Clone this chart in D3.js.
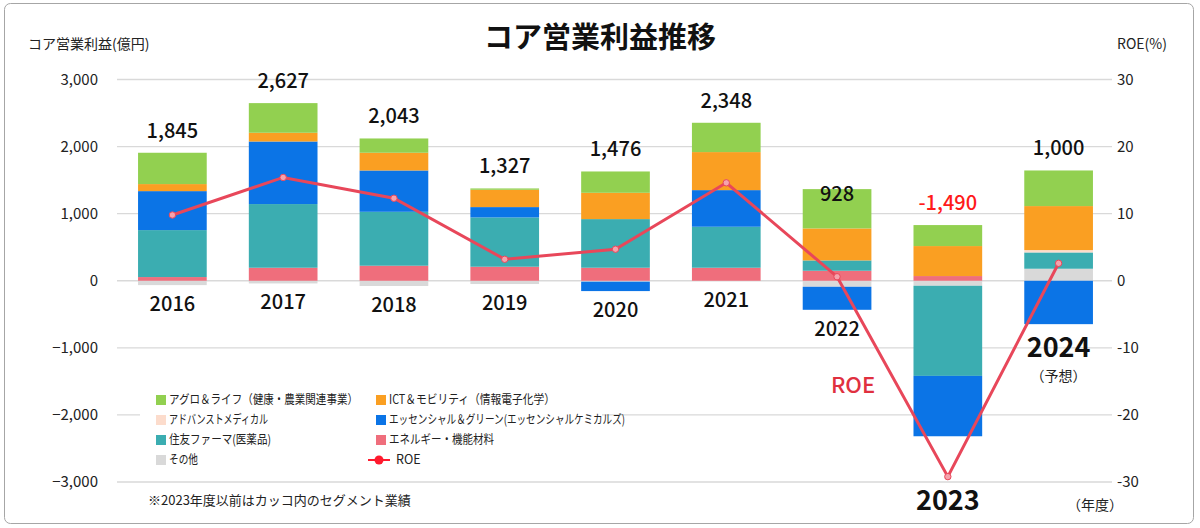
<!DOCTYPE html>
<html>
<head>
<meta charset="utf-8">
<script src="https://cdn.jsdelivr.net/npm/d3@7"></script>
<style>
  body { margin: 0; background: #fff; }
  text { font-family: "Noto Sans CJK JP", "Noto Sans", sans-serif; }
</style>
</head>
<body>
<script>
// fiscal years and segment core operating income (100M yen)
var years = ["2016", "2017", "2018", "2019", "2020", "2021", "2022", "2023", "2024"];
var agro      = [467, 442, 213, 20, 318, 437, 586, 313, 531];
var ict       = [105, 130, 264, 258, 392, 567, 477, 447, 656];
var advmed    = [0, 0, 0, 0, 0, 0, 0, 0, 35];
var essential = [581, 933, 616, 154, -140, 546, -343, -900, -647];
var pharma    = [700, 949, 804, 735, 725, 611, 154, -1343, 243];
var energy    = [55, 194, 224, 209, 194, 194, 149, 70, 0];
var others    = [-65, -40, -78, -49, -14, 0, -90, -75, 179];
var roe       = [9.8, 15.4, 12.3, 3.2, 4.7, 14.6, 0.6, -29.2, 2.6];
var totals    = ["1,845", "2,627", "2,043", "1,327", "1,476", "2,348", "928", "-1,490", "1,000"];
var leftTicks  = [-3000, -2000, -1000, 0, 1000, 2000, 3000];
var rightTicks = [-30, -20, -10, 0, 10, 20, 30];

var series = [
  {key: "others",    name: "その他",                                   color: "#d9d9d9", values: others},
  {key: "energy",    name: "エネルギー・機能材料",                       color: "#ef6e7c", values: energy},
  {key: "pharma",    name: "住友ファーマ(医薬品)",                       color: "#3badb1", values: pharma},
  {key: "advmed",    name: "アドバンストメディカル",                     color: "#fcdccc", values: advmed},
  {key: "essential", name: "エッセンシャル＆グリーン(エッセンシャルケミカルズ)", color: "#0b74e6", values: essential},
  {key: "ict",       name: "ICT＆モビリティ（情報電子化学）",            color: "#fa9f22", values: ict},
  {key: "agro",      name: "アグロ＆ライフ（健康・農業関連事業）",        color: "#92d050", values: agro}
];

var W = 1200, H = 528;
var svg = d3.select("body").append("svg")
  .attr("width", W)
  .attr("height", H);

svg.append("rect")
  .attr("x", 4.5).attr("y", 3.5)
  .attr("width", 1189).attr("height", 520)
  .attr("rx", 6)
  .attr("fill", "#fff")
  .attr("stroke", "#a6a6a6");

var x = d3.scaleBand()
  .domain(years)
  .range([117, 1114])
  .paddingInner(0.38)
  .paddingOuter(0.19);

var y = d3.scaleLinear().domain([-3000, 3000]).range([482, 79.5]);
var y2 = d3.scaleLinear().domain([-30, 30]).range([482, 79.5]);

// gridlines
svg.append("g").selectAll("line")
  .data(leftTicks)
  .enter().append("line")
  .attr("x1", 117).attr("x2", 1112)
  .attr("y1", function(d) { return y(d); })
  .attr("y2", function(d) { return y(d); })
  .attr("stroke", "#d9d9d9")
  .attr("stroke-width", 1.3);

// left axis labels
svg.append("g").selectAll("text")
  .data(leftTicks)
  .enter().append("text")
  .attr("x", 98)
  .attr("y", function(d) { return y(d); })
  .attr("dy", "0.35em")
  .attr("text-anchor", "end")
  .attr("font-size", 15)
  .attr("fill", "#222")
  .text(function(d) { return d3.format(",")(d); });

// right axis labels
svg.append("g").selectAll("text")
  .data(rightTicks)
  .enter().append("text")
  .attr("x", 1117)
  .attr("y", function(d) { return y2(d); })
  .attr("dy", "0.35em")
  .attr("font-size", 15)
  .attr("fill", "#222")
  .text(function(d) { return d; });

// stacked bars
var table = years.map(function(yr, i) {
  var row = {year: yr};
  series.forEach(function(s) { row[s.key] = s.values[i]; });
  return row;
});

var stack = d3.stack()
  .keys(series.map(function(s) { return s.key; }))
  .offset(d3.stackOffsetDiverging);
var layers = stack(table);

svg.append("g").selectAll("g")
  .data(layers)
  .enter().append("g")
  .attr("fill", function(d, i) { return series[i].color; })
  .selectAll("rect")
  .data(function(d) { return d; })
  .enter().append("rect")
  .attr("x", function(d) { return x(d.data.year); })
  .attr("y", function(d) { return y(Math.max(d[0], d[1])); })
  .attr("width", x.bandwidth())
  .attr("height", function(d) { return Math.abs(y(d[0]) - y(d[1])); });

function posTop(i) {
  var t = 0;
  series.forEach(function(s) { if (s.values[i] > 0) t += s.values[i]; });
  return t;
}
function negBottom(i) {
  var b = 0;
  series.forEach(function(s) { if (s.values[i] < 0) b += s.values[i]; });
  return b;
}

// legend box (covers gridline)
svg.append("rect")
  .attr("x", 140).attr("y", 388)
  .attr("width", 462).attr("height", 82)
  .attr("fill", "#fff");

// w = text width squeezed to fit the narrower legend font
var legendItems = [
  {s: series[6], col: 0, row: 0, w: 189},
  {s: series[5], col: 1, row: 0, w: 166},
  {s: series[3], col: 0, row: 1, w: 99},
  {s: series[4], col: 1, row: 1, w: 236},
  {s: series[2], col: 0, row: 2, w: 102},
  {s: series[1], col: 1, row: 2, w: 105},
  {s: series[0], col: 0, row: 3, w: 29}
];
var lg = svg.append("g");
legendItems.forEach(function(it) {
  var lx = it.col === 0 ? 156 : 376, ly = 400 + it.row * 20;
  lg.append("rect")
    .attr("x", lx).attr("y", ly - 5)
    .attr("width", 10).attr("height", 10)
    .attr("fill", it.s.color);
  lg.append("text")
    .attr("x", lx + 13).attr("y", ly)
    .attr("dy", "0.35em")
    .attr("font-size", 12.5)
    .attr("fill", "#222")
    .attr("textLength", it.w)
    .attr("lengthAdjust", "spacingAndGlyphs")
    .text(it.s.name);
});
lg.append("line")
  .attr("x1", 368).attr("x2", 390)
  .attr("y1", 460).attr("y2", 460)
  .attr("stroke", "#ff1a2e").attr("stroke-width", 2);
lg.append("circle")
  .attr("cx", 379).attr("cy", 460).attr("r", 4.5)
  .attr("fill", "#ff1a2e");
lg.append("text")
  .attr("x", 396).attr("y", 460)
  .attr("dy", "0.35em")
  .attr("font-size", 12.5)
  .attr("fill", "#222")
  .text("ROE");

// ROE line
var line = d3.line()
  .x(function(d, i) { return x(years[i]) + x.bandwidth() / 2; })
  .y(function(d) { return y2(d); });

svg.append("path")
  .datum(roe)
  .attr("d", line)
  .attr("fill", "none")
  .attr("stroke", "#e8475a")
  .attr("stroke-width", 3);

svg.append("g").selectAll("circle")
  .data(roe)
  .enter().append("circle")
  .attr("cx", function(d, i) { return x(years[i]) + x.bandwidth() / 2; })
  .attr("cy", function(d) { return y2(d); })
  .attr("r", 3.2)
  .attr("fill", "#f5a3ad")
  .attr("stroke", "#e8475a")
  .attr("stroke-width", 1);

// total labels
svg.append("g").selectAll("text")
  .data(totals)
  .enter().append("text")
  .attr("x", function(d, i) { return x(years[i]) + x.bandwidth() / 2; })
  .attr("y", function(d, i) {
    // 2022's label sits on the top edge of its bar
    return i === 6 ? y(posTop(i)) + 12 : y(posTop(i)) - 15;
  })
  .attr("text-anchor", "middle")
  .attr("font-size", 20)
  .attr("font-weight", 500)
  .attr("fill", function(d) { return d.charAt(0) === "-" ? "#ff1a1a" : "#111"; })
  .text(function(d) { return d; });

// year labels
svg.append("g").selectAll("text")
  .data(years)
  .enter().append("text")
  .attr("x", function(d) { return x(d) + x.bandwidth() / 2; })
  .attr("y", function(d, i) {
    if (d === "2023") return y(-3000) + 28;
    if (d === "2024") return y(negBottom(i)) + 33;
    return Math.max(y(0), y(negBottom(i))) + 26;
  })
  .attr("text-anchor", "middle")
  .attr("font-size", function(d) { return d === "2023" || d === "2024" ? 27 : 20; })
  .attr("font-weight", function(d) { return d === "2023" || d === "2024" ? 700 : 500; })
  .attr("fill", "#111")
  .text(function(d) { return d; });

svg.append("text")
  .attr("x", x("2024") + x.bandwidth() / 2)
  .attr("y", y(negBottom(8)) + 57)
  .attr("text-anchor", "middle")
  .attr("font-size", 14)
  .attr("fill", "#222")
  .text("（予想）");

// titles and notes
svg.append("text")
  .attr("x", 600).attr("y", 48)
  .attr("text-anchor", "middle")
  .attr("font-size", 29)
  .attr("font-weight", 700)
  .attr("fill", "#111")
  .text("コア営業利益推移");

svg.append("text")
  .attr("x", 28).attr("y", 49)
  .attr("font-size", 14)
  .attr("fill", "#222")
  .text("コア営業利益(億円)");

svg.append("text")
  .attr("x", 1117).attr("y", 49)
  .attr("font-size", 14)
  .attr("fill", "#222")
  .text("ROE(%)");

svg.append("text")
  .attr("x", 1123).attr("y", 510)
  .attr("text-anchor", "end")
  .attr("font-size", 14)
  .attr("fill", "#222")
  .text("（年度）");

svg.append("text")
  .attr("x", 853).attr("y", 393)
  .attr("text-anchor", "middle")
  .attr("font-size", 22)
  .attr("font-weight", 500)
  .attr("fill", "#e0303f")
  .text("ROE");

svg.append("text")
  .attr("x", 148).attr("y", 505)
  .attr("font-size", 13)
  .attr("fill", "#222")
  .text("※2023年度以前はカッコ内のセグメント業績");
</script>
</body>
</html>
